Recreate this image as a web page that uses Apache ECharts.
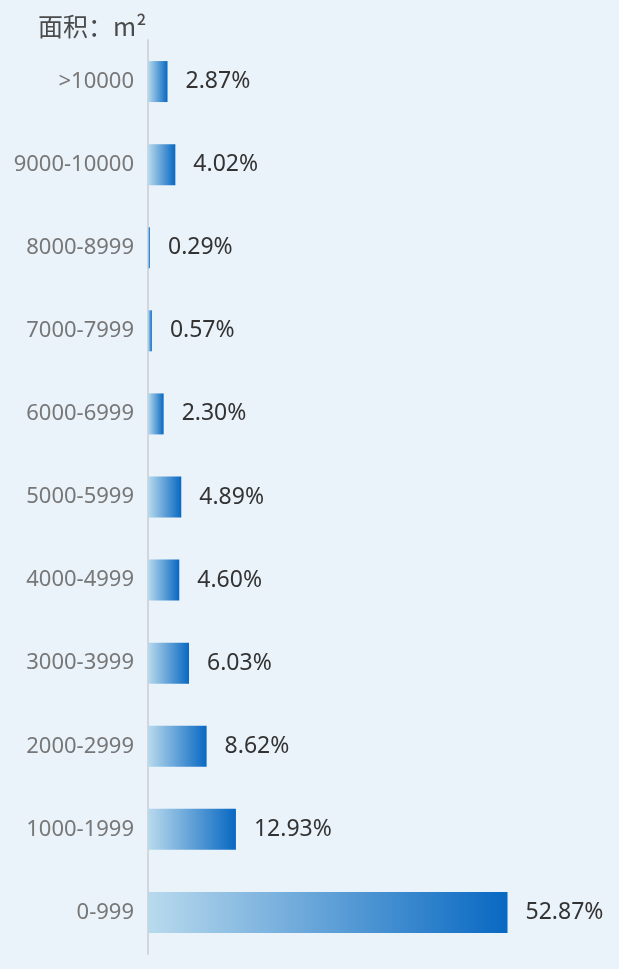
<!DOCTYPE html>
<html lang="zh">
<head>
    <meta charset="UTF-8" />
    <title>面积分布</title>
    <style>
        html, body { margin: 0; padding: 0; background: #eaf2fa; }
        #chart { width: 619px; height: 969px; }
    </style>
</head>
<body>
    <div id="chart"></div>
    <script src="https://cdn.jsdelivr.net/npm/echarts@6/dist/echarts.min.js"></script>
    <script type="text/javascript">
        // 从下到上
        var categories = ['0-999', '1000-1999', '2000-2999', '3000-3999', '4000-4999', '5000-5999',
            '6000-6999', '7000-7999', '8000-8999', '9000-10000', '>10000'];
        var percents = [52.87, 12.93, 8.62, 6.03, 4.60, 4.89, 2.30, 0.57, 0.29, 4.02, 2.87];

        var chart = echarts.init(document.getElementById('chart'));
        var option = {
            backgroundColor: '#eaf2fa',
            title: {
                text: '面积：m²',
                left: 33,
                top: 9,
                textStyle: {
                    color: '#4a4a4a',
                    fontSize: 25,
                    fontWeight: 'normal',
                    fontFamily: 'Noto Sans CJK SC'
                }
            },
            grid: {
                left: 148,
                right: 63,
                top: 40,
                bottom: 15
            },
            xAxis: {
                type: 'value',
                min: 0,
                max: 60,
                show: false
            },
            yAxis: {
                type: 'category',
                data: categories,
                axisLine: { lineStyle: { color: '#d3d6da', width: 2 } },
                axisTick: { show: false },
                axisLabel: {
                    color: '#777',
                    fontSize: 22,
                    margin: 14,
                    fontFamily: 'Noto Sans, Noto Sans CJK SC'
                }
            },
            series: [{
                type: 'bar',
                data: percents,
                barWidth: 41,
                itemStyle: {
                    color: new echarts.graphic.LinearGradient(0, 0, 1, 0, [
                        { offset: 0, color: '#b9daed' },
                        { offset: 1, color: '#0868c2' }
                    ])
                },
                label: {
                    show: true,
                    position: 'right',
                    distance: 18,
                    color: '#333',
                    fontSize: 23,
                    fontFamily: 'Noto Sans, Noto Sans CJK SC',
                    formatter: function (p) {
                        return p.value.toFixed(2) + '%';
                    }
                }
            }]
        };
        chart.setOption(option);
    </script>
</body>
</html>
